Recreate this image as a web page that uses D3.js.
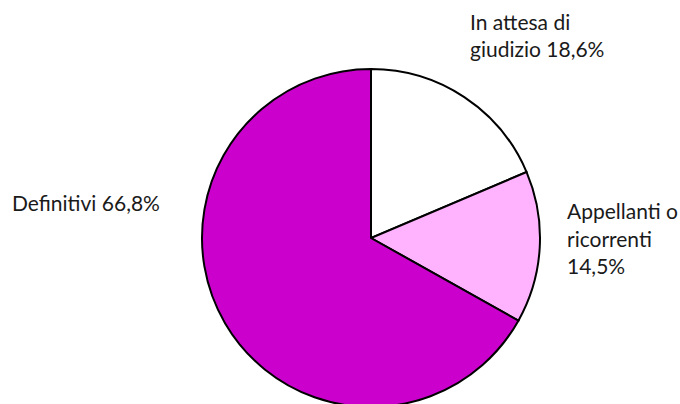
<!DOCTYPE html>
<html>
<head>
<meta charset="utf-8">
<script src="https://cdn.jsdelivr.net/npm/d3@7"></script>
<style>
html,body{margin:0;padding:0;background:#fff;overflow:hidden;}
text{font-family:Lato,"Noto Sans",sans-serif;fill:#1a1a1a;}
</style>
</head>
<body>
<script>
const categories = ["In attesa di giudizio", "Appellanti o ricorrenti", "Definitivi"];
const values = [18.6, 14.5, 66.8];
const colors = ["#FFFFFF", "#FFB3FF", "#CC00CC"];
const labelLines = [
  ["In attesa di", "giudizio 18,6%"],
  ["Appellanti o", "ricorrenti", "14,5%"],
  ["Definitivi 66,8%"]
];

const W = 680, H = 404;
const cx = 371, cy = 238, R = 169;

const svg = d3.select("body").append("svg").attr("width", W).attr("height", H);

const pie = d3.pie().sort(null).value(d => d)(values);
const arc = d3.arc().innerRadius(0).outerRadius(R);
const color = d3.scaleOrdinal().domain(categories).range(colors);

const g = svg.append("g").attr("transform", `translate(${cx},${cy})`);
g.selectAll("path").data(pie).enter().append("path")
  .attr("d", arc)
  .attr("fill", (d, i) => color(categories[i]))
  .attr("stroke", "#000")
  .attr("stroke-width", 2)
  .attr("stroke-linejoin", "miter");

const labelPos = [
  {x: 470, y: 30, lh: 27},
  {x: 567, y: 219, lh: 27.5},
  {x: 12, y: 211, lh: 27}
];
labelLines.forEach((lines, i) => {
  const t = svg.append("text")
    .attr("x", labelPos[i].x).attr("y", labelPos[i].y)
    .attr("font-size", 21);
  lines.forEach((ln, j) => {
    t.append("tspan").attr("x", labelPos[i].x)
      .attr("dy", j === 0 ? 0 : labelPos[i].lh)
      .text(ln);
  });
});
</script>
</body>
</html>
